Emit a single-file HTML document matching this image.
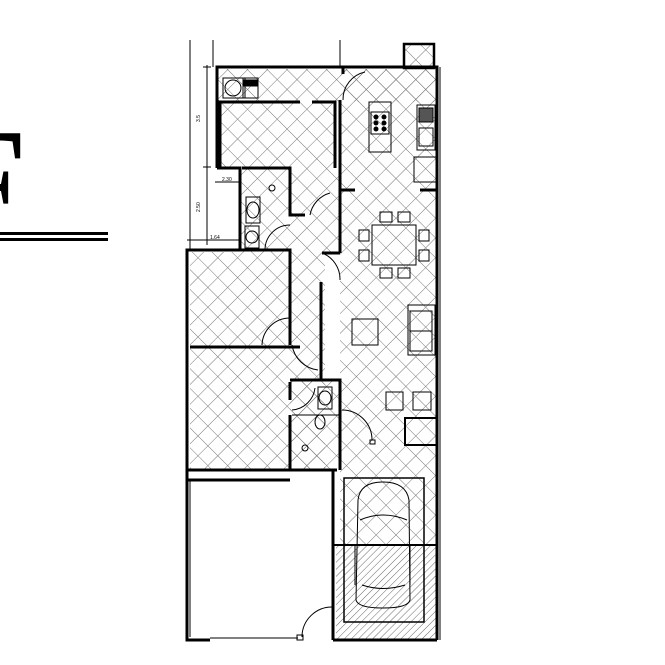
<!DOCTYPE html>
<html><head><meta charset="utf-8"><style>
html,body{margin:0;padding:0;background:#fff;width:665px;height:665px;overflow:hidden}
svg{display:block}
</style></head><body>
<svg width="665" height="665" viewBox="0 0 665 665" xmlns="http://www.w3.org/2000/svg">
<defs>
<pattern id="x" width="14" height="14" patternUnits="userSpaceOnUse" patternTransform="rotate(45)">
<path d="M0 0H14M0 0V14" stroke="#777" stroke-width="1" fill="none"/>
</pattern>
<pattern id="d" width="5" height="5" patternUnits="userSpaceOnUse" patternTransform="rotate(45)">
<path d="M0 0V5" stroke="#444" stroke-width="0.8"/>
</pattern>
</defs>
<!-- logo -->
<text x="-63" y="238" font-family="Liberation Serif, serif" font-size="160" fill="#000">F</text>
<rect x="0" y="226" width="120" height="6" fill="#fff"/>
<rect x="0" y="232" width="108" height="3" fill="#000"/>
<rect x="0" y="238" width="108" height="3" fill="#000"/>

<!-- hatched floors -->
<g fill="url(#x)">
<rect x="218" y="69" width="218" height="33"/>
<rect x="220" y="102" width="115" height="66"/>
<rect x="340" y="69" width="96" height="376"/>
<rect x="240" y="168" width="100" height="84"/>
<rect x="190" y="252" width="135" height="218"/>
<rect x="290" y="380" width="50" height="90"/>
<rect x="340" y="445" width="96" height="100"/>
<rect x="404" y="44" width="30" height="24"/>
</g>
<rect x="336" y="545" width="100" height="95" fill="url(#d)"/>

<!-- dimension lines -->
<g stroke="#000" stroke-width="1" fill="none">
<line x1="190" y1="40" x2="190" y2="250"/>
<line x1="213" y1="40" x2="213" y2="67"/>
<line x1="340" y1="40" x2="340" y2="67"/>
<line x1="207" y1="65" x2="207" y2="245"/>
<line x1="203" y1="67" x2="211" y2="67"/>
<line x1="203" y1="167" x2="211" y2="167"/>
<line x1="215" y1="182" x2="240" y2="182"/>
<line x1="187" y1="240" x2="240" y2="240"/>
</g>
<g font-family="Liberation Sans, sans-serif" font-size="5" fill="#000">
<text x="222" y="181">2.30</text><text x="210" y="239">1.64</text>
<text x="198" y="120" transform="rotate(-90 200 120)">3.5</text>
<text x="198" y="210" transform="rotate(-90 200 210)">2.50</text>
</g>

<!-- walls -->
<g stroke="#000" stroke-width="3" fill="none">
<polyline points="217,168 217,67 437,67 437,640"/>
<rect x="404" y="44" width="30" height="24" stroke-width="2.5"/>
<polyline points="217,168 240,168 240,250 187,250 187,640 210,640"/>
<polyline points="220,168 220,102 300,102"/>
<polyline points="312,102 335,102 335,168"/>
<line x1="343" y1="67" x2="343" y2="74"/>
<line x1="340" y1="100" x2="340" y2="253"/>
<line x1="340" y1="190" x2="355" y2="190"/>
<line x1="420" y1="190" x2="437" y2="190"/>
<polyline points="242,168 290,168 290,215 305,215"/>
<polyline points="240,250 290,250 290,345"/>
<line x1="190" y1="250" x2="290" y2="250"/>
<line x1="190" y1="347" x2="300" y2="347"/>
<polyline points="322,253 340,253"/>
<line x1="321" y1="282" x2="321" y2="380"/>
<polyline points="290,380 340,380 340,470"/>
<line x1="290" y1="382" x2="290" y2="400"/>
<line x1="290" y1="415" x2="290" y2="470"/>
<polyline points="187,470 290,470 337,470"/>
<line x1="187" y1="480" x2="290" y2="480"/>
<line x1="333" y1="470" x2="333" y2="640"/>
<line x1="333" y1="545" x2="437" y2="545" stroke-width="2"/>
<line x1="333" y1="640" x2="437" y2="640"/>
<rect x="405" y="418" width="32" height="27" stroke-width="2"/>
<line x1="292" y1="415" x2="340" y2="415" stroke-width="1"/>
</g>
<g stroke="#000" stroke-width="1" fill="none">
<line x1="440" y1="67" x2="440" y2="640"/>
<line x1="190" y1="480" x2="190" y2="637"/>
<line x1="210" y1="638" x2="298" y2="638"/>
<rect x="297" y="635" width="6" height="5"/>
<path d="M302 637 A30 30 0 0 1 333 607"/>
<path d="M343 100 A28 28 0 0 1 365 72"/>
<path d="M322 253 A28 28 0 0 1 340 280"/>
<path d="M310 215 A28 28 0 0 1 330 193"/>
<path d="M265 250 A25 25 0 0 1 290 225"/>
<path d="M262 345 A28 28 0 0 1 290 318"/>
<path d="M292 345 A30 30 0 0 0 318 370"/>
<path d="M292 410 A25 25 0 0 0 315 388"/>
<path d="M342 410 A30 30 0 0 1 372 440"/>
<rect x="370" y="440" width="5" height="4"/>
<rect x="223" y="78" width="22" height="20"/><circle cx="233" cy="88" r="8"/>
<rect x="243" y="78" width="15" height="20"/><rect x="244" y="80" width="13" height="6" fill="#000"/>
<rect x="369" y="102" width="22" height="50"/>
<rect x="371" y="112" width="18" height="22"/>
<g fill="#000"><circle cx="376" cy="117" r="2"/><circle cx="384" cy="117" r="2"/><circle cx="376" cy="123" r="2"/><circle cx="384" cy="123" r="2"/><circle cx="376" cy="129" r="2"/><circle cx="384" cy="129" r="2"/></g>
<rect x="417" y="105" width="18" height="45"/><rect x="419" y="108" width="14" height="14" fill="#555"/>
<rect x="419" y="128" width="14" height="18"/>
<rect x="414" y="157" width="22" height="25"/>
<rect x="372" y="225" width="44" height="40"/>
<rect x="380" y="212" width="12" height="10"/><rect x="398" y="212" width="12" height="10"/>
<rect x="380" y="268" width="12" height="10"/><rect x="398" y="268" width="12" height="10"/>
<rect x="359" y="230" width="10" height="11"/><rect x="359" y="250" width="10" height="11"/>
<rect x="419" y="230" width="10" height="11"/><rect x="419" y="250" width="10" height="11"/>
<rect x="352" y="319" width="26" height="26"/>
<rect x="408" y="305" width="27" height="50"/><rect x="410" y="311" width="22" height="20"/><rect x="410" y="331" width="22" height="20"/>
<rect x="386" y="392" width="17" height="18"/><rect x="413" y="392" width="18" height="18"/>
<rect x="246" y="197" width="14" height="26"/><ellipse cx="253" cy="210" rx="6" ry="8"/>
<rect x="245" y="226" width="14" height="22"/><circle cx="252" cy="237" r="6"/>
<circle cx="272" cy="188" r="3"/>
<rect x="318" y="387" width="14" height="22"/><ellipse cx="325" cy="398" rx="6" ry="7"/>
<ellipse cx="320" cy="422" rx="5" ry="7"/>
<circle cx="305" cy="448" r="3"/>
<rect x="344" y="478" width="80" height="144" stroke-width="1.5"/>
<path d="M358 500 Q360 482 383 482 Q406 482 409 500 L410 600 Q408 608 383 608 Q358 608 356 600 Z"/>
<path d="M360 520 Q383 510 407 520 M362 585 Q383 592 405 585"/>
<line x1="355" y1="545" x2="355" y2="585"/><line x1="410" y1="545" x2="410" y2="585"/>
</g>
</svg>
</body></html>
